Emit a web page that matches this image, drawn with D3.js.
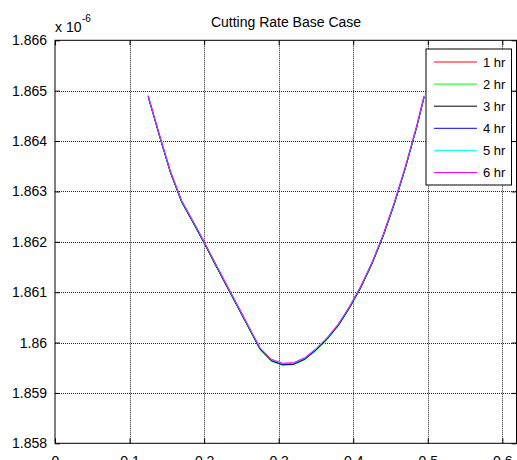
<!DOCTYPE html>
<meta charset="utf-8">

<script src="https://d3js.org/d3.v7.min.js"></script>

<style type="text/css">

body {
  margin: 0;
  background: white;
}

svg {
  display: block;
  background: white;
}

text {
  font-family: "Liberation Sans", Arial, sans-serif;
  fill: black;
}

.grid line {
  stroke: #222;
  stroke-width: 1px;
  stroke-dasharray: 1px 1px;
}

.tick line {
  stroke: black;
}

.legendBorder {
  fill: white;
  stroke: black;
}

</style>

<body>
</body>

<script>

  // ---------------------------//
  //         DATA               //
  // ---------------------------//

  const xValues = [0.125, 0.14, 0.155, 0.17, 0.185, 0.2, 0.215, 0.23, 0.245, 0.26, 0.275, 0.29, 0.305,
                   0.32, 0.335, 0.35, 0.365, 0.38, 0.395, 0.41, 0.425, 0.44, 0.455, 0.47, 0.485, 0.495]

  const hr1 = [1.86490, 1.86411, 1.86337, 1.86279, 1.86239, 1.86198, 1.86155, 1.86113, 1.86071, 1.86029, 1.85987, 1.85964, 1.85956,
               1.85957, 1.85967, 1.85985, 1.86007, 1.86034, 1.86069, 1.86109, 1.86156, 1.86211, 1.86275, 1.86347, 1.86427, 1.86486]
  const hr2 = [1.86487, 1.86410, 1.86336, 1.86278, 1.86238, 1.86197, 1.86154, 1.86112, 1.86070, 1.86028, 1.85986, 1.85963, 1.85955,
               1.85956, 1.85966, 1.85984, 1.86006, 1.86033, 1.86068, 1.86108, 1.86155, 1.86210, 1.86274, 1.86346, 1.86426, 1.86487]
  const hr3 = [1.86488, 1.86411, 1.86337, 1.86279, 1.86239, 1.86198, 1.86155, 1.86113, 1.86071, 1.86029, 1.85987, 1.85964, 1.85956,
               1.85957, 1.85967, 1.85985, 1.86007, 1.86034, 1.86069, 1.86109, 1.86156, 1.86211, 1.86275, 1.86347, 1.86427, 1.86488]
  const hr4 = [1.86488, 1.86412, 1.86338, 1.86280, 1.86240, 1.86199, 1.86156, 1.86114, 1.86072, 1.86030, 1.85988, 1.85965, 1.85957,
               1.85958, 1.85968, 1.85986, 1.86008, 1.86035, 1.86070, 1.86110, 1.86157, 1.86212, 1.86276, 1.86348, 1.86428, 1.86488]
  const hr5 = [1.86489, 1.86413, 1.86339, 1.86281, 1.86241, 1.86200, 1.86157, 1.86115, 1.86073, 1.86031, 1.85989, 1.85966, 1.85958,
               1.85959, 1.85969, 1.85987, 1.86009, 1.86036, 1.86071, 1.86111, 1.86158, 1.86213, 1.86277, 1.86349, 1.86429, 1.86489]
  const hr6 = [1.86490, 1.86414, 1.86340, 1.86282, 1.86242, 1.86201, 1.86158, 1.86116, 1.86074, 1.86032, 1.85990, 1.85967, 1.85959,
               1.85960, 1.85970, 1.85988, 1.86010, 1.86037, 1.86072, 1.86112, 1.86159, 1.86214, 1.86278, 1.86350, 1.86430, 1.86490]

  const seriesNames = ['1 hr', '2 hr', '3 hr', '4 hr', '5 hr', '6 hr']
  const seriesValues = [hr1, hr2, hr3, hr4, hr5, hr6]
  const seriesColors = ['#ff0000', '#00ff00', '#000000', '#0000ff', '#00ffff', '#ff00ff']

  const xTicks = [0, 0.1, 0.2, 0.3, 0.4, 0.5, 0.6]
  const yTicks = [1.858, 1.859, 1.860, 1.861, 1.862, 1.863, 1.864, 1.865, 1.866]
  const yTickLabels = ['1.858', '1.859', '1.86', '1.861', '1.862', '1.863', '1.864', '1.865', '1.866']

  // ---------------------------//
  //         LAYOUT             //
  // ---------------------------//

  const outerWidth = 517
  const outerHeight = 460
  const plotLeft = 55
  const plotRight = 516.5
  const plotTop = 40.3
  const plotBottom = 443.3
  const tickLength = 5
  const fontSize = 14

  const legendX = 426
  const legendY = 49
  const legendWidth = 85.5
  const legendHeight = 136
  const legendRow = 22.1

  let xScale = d3.scaleLinear()
                  .domain([0, 0.619])
                  .range([plotLeft, plotRight])

  let yScale = d3.scaleLinear()
                  .domain([1.858, 1.866])
                  .range([plotBottom, plotTop])

  const SVG = d3.select("body").append("svg")
    .attr("width", outerWidth)
    .attr("height", outerHeight)

  // ---------------------------//
  //         GRID               //
  // ---------------------------//

  const grid = SVG.append('g').classed('grid', true)

  grid.selectAll('.vgrid')
    .data(xTicks.filter(d => d > 0))
    .enter().append('line')
    .attr('x1', d => Math.round(xScale(d)) + 0.5)
    .attr('x2', d => Math.round(xScale(d)) + 0.5)
    .attr('y1', plotTop)
    .attr('y2', plotBottom)

  grid.selectAll('.hgrid')
    .data(yTicks.filter(d => d > 1.858 && d < 1.866))
    .enter().append('line')
    .attr('x1', plotLeft)
    .attr('x2', plotRight)
    .attr('y1', d => Math.round(yScale(d)) + 0.5)
    .attr('y2', d => Math.round(yScale(d)) + 0.5)

  // ---------------------------//
  //         AXES               //
  // ---------------------------//

  // bottom and top, ticks pointing inward
  SVG.append('g')
    .attr('transform', 'translate(0,' + plotBottom + ')')
    .call(d3.axisBottom(xScale).tickValues(xTicks).tickSize(-tickLength).tickPadding(13).tickFormat(d3.format('')))
    .call(g => g.select('.domain').remove())
    .selectAll('text')
    .style('font-size', fontSize + 'px')

  SVG.append('g')
    .attr('transform', 'translate(0,' + plotTop + ')')
    .call(d3.axisTop(xScale).tickValues(xTicks).tickSize(-tickLength).tickFormat(''))
    .call(g => g.select('.domain').remove())

  // left and right
  SVG.append('g')
    .attr('transform', 'translate(' + plotLeft + ',0)')
    .call(d3.axisLeft(yScale).tickValues(yTicks).tickSize(-tickLength).tickPadding(8)
      .tickFormat((d, i) => yTickLabels[i]))
    .call(g => g.select('.domain').remove())
    .selectAll('text')
    .style('font-size', fontSize + 'px')

  SVG.append('g')
    .attr('transform', 'translate(' + plotRight + ',0)')
    .call(d3.axisRight(yScale).tickValues(yTicks).tickSize(-tickLength).tickFormat(''))
    .call(g => g.select('.domain').remove())

  // box
  SVG.append('rect')
    .attr('x', plotLeft)
    .attr('y', plotTop)
    .attr('width', plotRight - plotLeft)
    .attr('height', plotBottom - plotTop)
    .style('fill', 'none')
    .style('stroke', 'black')

  // exponent
  SVG.append('text')
    .attr('x', plotLeft)
    .attr('y', 31.5)
    .style('font-size', fontSize + 'px')
    .text('x 10')

  SVG.append('text')
    .attr('x', 82)
    .attr('y', 22)
    .style('font-size', '10px')
    .text('-6')

  // title
  SVG.append('text')
    .attr('x', 286)
    .attr('y', 27.3)
    .attr('text-anchor', 'middle')
    .style('font-size', fontSize + 'px')
    .text('Cutting Rate Base Case')

  // ---------------------------//
  //         LINES              //
  // ---------------------------//

  const line = d3.line()
    .x((d, i) => xScale(xValues[i]))
    .y(d => yScale(d))

  SVG.selectAll('.series')
    .data(seriesValues)
    .enter().append('path')
    .classed('series', true)
    .attr('d', d => line(d))
    .style('fill', 'none')
    .style('stroke', (d, i) => seriesColors[i])
    .style('stroke-width', 1)

  // ---------------------------//
  //         LEGEND             //
  // ---------------------------//

  SVG.append('rect')
    .attr('x', legendX)
    .attr('y', legendY)
    .attr('width', legendWidth)
    .attr('height', legendHeight)
    .classed('legendBorder', true)

  const legendItems = SVG.selectAll('.legendItem')
    .data(seriesNames)
    .enter().append('g')
    .classed('legendItem', true)
    .attr('transform', (d, i) => 'translate(0,' + (legendY + 13 + i * legendRow) + ')')

  legendItems.append('line')
    .attr('x1', 434)
    .attr('x2', 477)
    .style('stroke', (d, i) => seriesColors[i])

  legendItems.append('text')
    .attr('x', 483)
    .attr('dy', '0.36em')
    .style('font-size', '13px')
    .text(d => d)

</script>
